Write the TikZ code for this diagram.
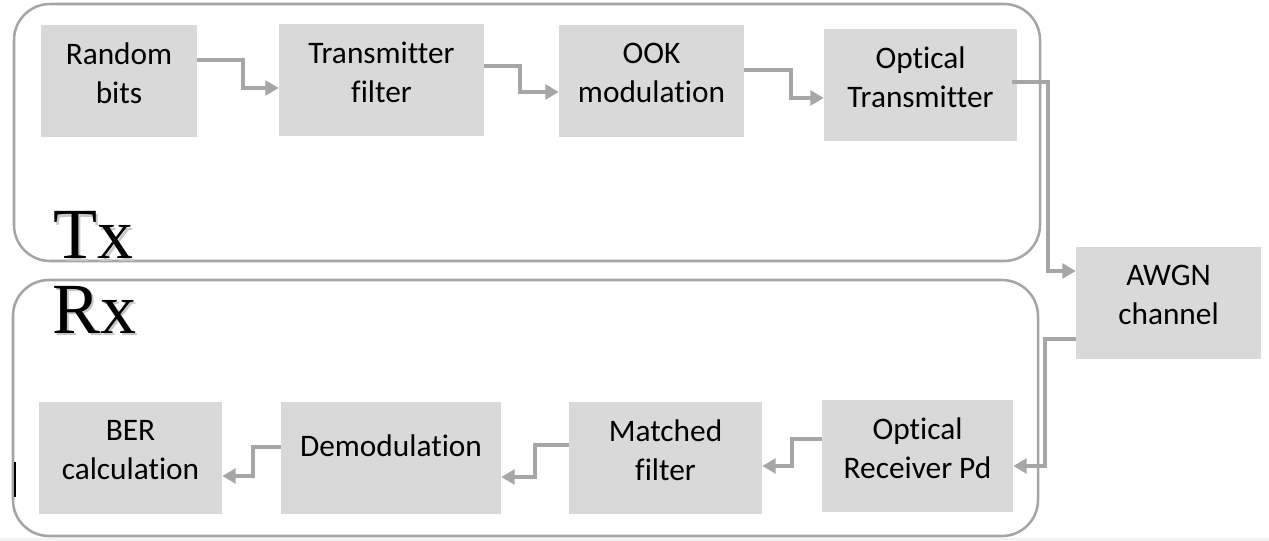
\documentclass[tikz,border=0pt]{standalone}
\usepackage{fontspec}
\setmainfont{Carlito}[Ligatures=NoCommon]
\newfontfamily\labelfont{Liberation Serif}
\usepackage{tikz}
\usetikzlibrary{arrows.meta, positioning}

\definecolor{blockgray}{HTML}{D9D9D9}
\definecolor{linegray}{HTML}{A6A6A6}
\definecolor{framegray}{HTML}{A5A5A5}

\newcommand{\shadowtext}[1]{\makebox[0pt][l]{\hspace{1.9pt}\raisebox{-1.9pt}{\textcolor{black!22}{#1}}}#1}

\begin{document}
\begin{tikzpicture}[x=0.75pt,y=-0.75pt]
				
				\tikzset{block/.style={
						fill=blockgray,
						minimum height=84pt,
						minimum width=#1,
						align=center,
						inner sep=0pt,
						text depth=12pt,
						font=\fontsize{23.5pt}{29.5pt}\selectfont
					},
					block/.default=140pt,
					group box/.style={draw=framegray, line width=1.9pt, rounded corners=27pt},
					link/.style={draw=linegray, line width=3pt, -{Triangle[length=10pt,width=11pt]}},
					big label/.style={anchor=base west, inner sep=0pt, font=\labelfont\fontsize{54pt}{54pt}\selectfont}
				}
				\useasboundingbox (0,0) rectangle (1269,541);
				\fill[gray!10] (0,538) rectangle (1269,541);
				
				% Tx and Rx frames
				\draw[group box] (14,4) rectangle (1040,261);
				\draw[group box] (13,280) rectangle (1038,536);
				
				% transmitter chain
				\node[block=117pt] (bits) at (119,81) {Random\\bits};
				\node[block=153.75pt] (txfilter) at (381.5,80.5) {Transmitter\\filter};
				\node[block=138.75pt] (ook) at (651.5,81) {OOK\\modulation};
				\node[block=144.75pt] (optx) at (920.5,85) {Optical\\Transmitter};
				
				% channel
				\node[block=138.75pt] (awgn) at (1168.5,303) {AWGN\\channel};
				
				% receiver chain
				\node[block=143.25pt] (oprx) at (917.5,456) {Optical\\Receiver Pd};
				\node[block=144.75pt] (matched) at (665.5,458) {Matched\\filter};
				\node[block=165pt, text depth=18pt] (demod) at (391,458) {Demodulation};
				\node[block=137.25pt] (ber) at (130.5,458) {BER\\calculation};
				
				\node[big label] (txlabel) at (53,259) {\shadowtext{Tx}};
				\node[big label] (rxlabel) at (52,333) {\shadowtext{Rx}};
				
				\draw[link] ([yshift=15.75pt]bits.east) -- ++(46,0) |- ([yshift=-5.6pt]txfilter.west);
				\draw[link] ([yshift=10.9pt]txfilter.east) -- ++(36,0) |- ([yshift=-8.25pt]ook.west);
				\draw[link] ([yshift=8.25pt]ook.east) -- ++(47,0) |- ([yshift=-9.75pt]optx.west);
				\draw[link] ([xshift=-3.75pt,yshift=2.25pt]optx.east) -- ++(36,0) |- ([yshift=24pt]awgn.west);
				\draw[link] ([yshift=-27pt]awgn.west) -- ++(-31,0) |- ([yshift=-7.5pt]oprx.east);
				\draw[link] ([yshift=12.75pt]oprx.west) -- ++(-30,0) |- ([yshift=-6pt]matched.east);
				\draw[link] ([yshift=9.75pt]matched.west) -- ++(-34,0) |- ([yshift=-14.25pt]demod.east);
				\draw[link] ([yshift=8.25pt]demod.west) -- ++(-28,0) |- ([yshift=-13.5pt]ber.east);
				
				\coordinate (caret top) at (15,462);
				\coordinate (caret bottom) at (15,497);
				\draw[black, line width=1.1pt] (caret top) -- (caret bottom);
				
\end{tikzpicture}
\end{document}
